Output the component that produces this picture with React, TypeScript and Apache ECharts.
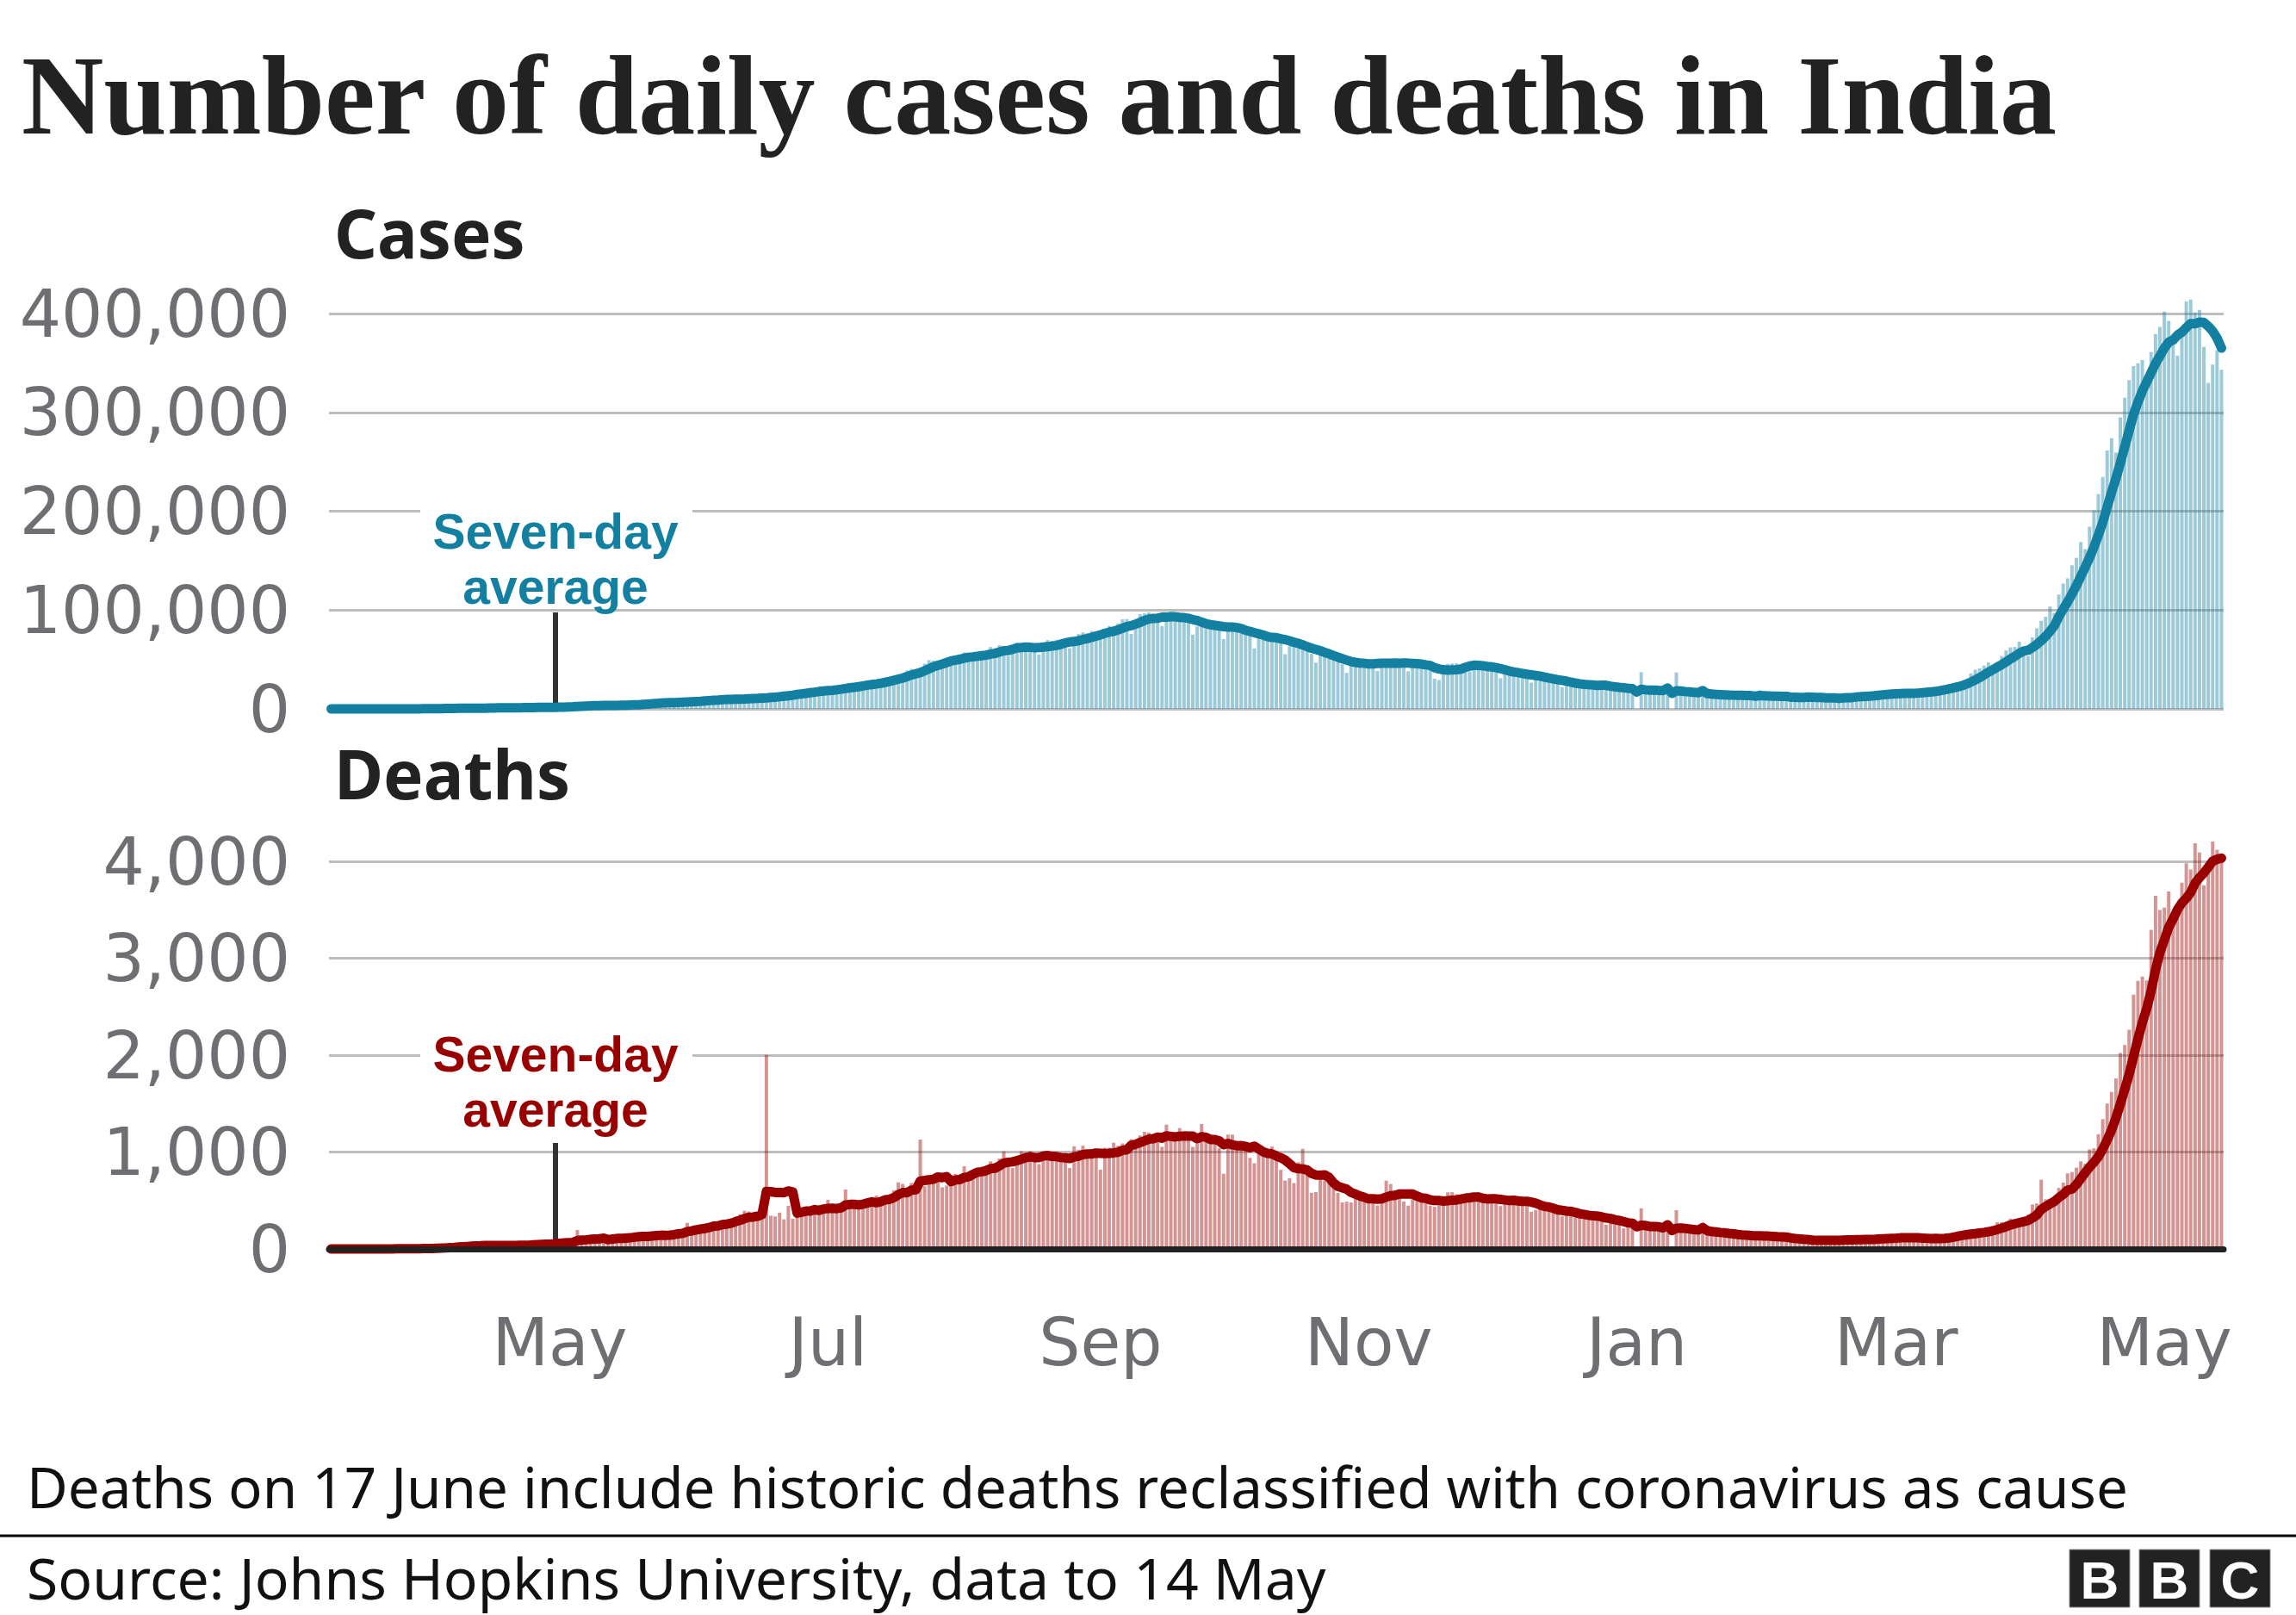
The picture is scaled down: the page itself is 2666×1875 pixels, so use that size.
import React, { useEffect, useRef } from "react";
import * as echarts from "echarts";

// ---------- Data (daily values, chart dates from 10 Mar 2020 to 14 May 2021) ----------
const START_DATE = "2020-03-10";

const cases2020Mar = [4, 10, 6, 11, 8, 18, 6, 25, 17, 14, 25, 56, 81, 64, 103, 75, 92, 87, 154, 103, 97, 227];
const cases2020Apr = [146, 601, 545, 478, 637, 693, 704, 508, 485, 591, 896, 768, 918, 934, 1463, 1118, 826, 1076, 957, 1324, 1580, 1239, 1537, 1292, 1667, 1408, 1835, 1607, 1568, 1902];
const cases2020May = [1705, 2394, 2564, 2952, 3656, 2971, 3602, 3344, 3339, 3175, 4311, 3592, 3562, 3726, 3991, 3808, 4794, 5050, 4628, 6147, 5553, 6088, 6654, 6767, 6977, 6414, 5843, 7293, 7300, 8105, 8336];
const cases2020Jun = [8782, 7723, 8812, 9633, 9889, 9471, 10438, 10864, 8536, 9987, 9985, 10956, 11306, 11929, 11502, 10667, 10974, 12881, 13586, 14516, 15413, 14821, 14933, 15968, 16922, 17296, 18552, 19906, 19459, 18522];
const cases2020Jul = [18653, 19148, 20903, 22771, 24850, 24248, 22252, 22752, 24879, 26506, 27114, 28637, 29108, 28498, 29429, 32695, 34956, 34884, 38902, 40425, 37148, 37724, 45720, 49310, 48916, 48661, 49931, 47704, 48513, 52123, 55078];
const cases2020Aug = [57118, 54736, 52972, 52050, 52509, 56282, 62538, 61537, 64399, 62064, 53601, 60963, 66999, 64553, 65002, 63490, 57981, 55079, 64531, 69652, 68898, 69878, 70488, 69239, 61408, 67151, 75760, 77266, 76472, 78761, 78512];
const cases2020Sep = [69921, 78357, 83883, 83341, 86432, 90632, 90802, 75809, 89706, 95735, 96551, 97570, 94372, 92071, 83809, 90123, 97894, 96424, 93337, 92605, 86961, 75083, 83347, 86508, 86052, 85362, 88600, 82170, 70589, 80472];
const cases2020Oct = [86821, 81484, 79476, 75829, 74442, 61267, 72049, 78524, 70496, 73272, 74383, 66732, 55342, 63509, 67708, 63371, 62212, 61871, 55722, 46790, 54044, 55838, 53370, 50129, 50356, 45149, 36469, 43893, 49881, 48648, 48268];
const cases2020Nov = [46963, 45231, 38310, 46253, 50210, 47638, 50357, 45674, 45903, 38073, 44281, 47905, 44879, 44878, 41100, 30548, 29163, 38617, 45576, 45882, 46232, 45209, 44059, 37975, 44376, 44489, 43082, 41322, 41810, 38772];
const cases2020Dec = [31118, 36604, 35551, 36595, 36652, 36011, 32981, 26567, 32080, 31522, 29398, 30006, 30254, 27071, 22065, 26382, 24010, 22890, 25153, 26624, 24337, 19556, 23950, 24712, 23067, 18732, 22273, 20021, 16432, 20549, 21822];
const cases2021Jan = [0, 37100, 19078, 18177, 16504, 18088, 20346, 18139, 0, 36867, 16311, 12584, 15968, 16946, 15590, 15158, 15144, 13788, 10064, 13823, 15223, 14545, 14256, 14849, 13203, 9102, 12689, 11666, 18855, 13083, 13052];
const cases2021Feb = [11427, 8635, 11039, 12899, 12408, 12194, 11713, 12059, 11831, 9110, 11067, 12923, 9309, 12143, 11649, 9121, 11610, 12881, 13193, 13993, 13993, 14264, 10584, 13742, 16738, 16577, 16488, 16752];
const cases2021Mar = [15510, 12286, 14989, 17407, 16838, 18327, 18711, 18599, 15388, 17921, 22854, 23285, 24882, 25320, 26291, 24492, 28903, 35871, 39726, 40953, 43846, 46951, 40715, 47262, 53476, 59118, 62258, 62714, 68020, 56211, 53480];
const cases2021Apr = [72330, 81466, 89129, 93249, 103558, 96982, 115736, 126789, 131968, 145384, 152879, 168912, 161736, 184372, 200739, 217353, 234692, 261500, 273810, 259170, 295041, 314835, 332730, 346786, 349691, 352991, 323144, 360960, 379257, 386452];
const cases2021May = [401993, 392488, 368147, 357229, 382315, 412262, 414188, 401078, 403738, 366161, 329942, 348421, 362727, 343144];

const deaths2020Mar = [0, 0, 0, 1, 1, 0, 0, 1, 0, 0, 1, 0, 3, 1, 2, 1, 4, 2, 4, 5, 3, 7];
const deaths2020Apr = [6, 9, 15, 17, 13, 32, 13, 35, 35, 31, 40, 33, 42, 35, 29, 39, 34, 38, 38, 32, 38, 48, 41, 37, 57, 52, 47, 60, 51, 72];
const deaths2020May = [70, 77, 73, 71, 195, 83, 92, 103, 96, 95, 110, 97, 122, 134, 102, 118, 120, 157, 137, 134, 132, 140, 142, 146, 154, 146, 170, 194, 175, 269, 193];
const deaths2020Jun = [230, 200, 217, 260, 273, 286, 294, 261, 265, 332, 357, 394, 386, 311, 321, 380, 2003, 343, 336, 375, 306, 445, 312, 465, 418, 410, 384, 410, 380, 418];
const deaths2020Jul = [507, 434, 379, 442, 613, 421, 425, 467, 482, 475, 519, 551, 500, 553, 500, 606, 687, 671, 543, 681, 587, 1129, 648, 740, 705, 708, 636, 654, 768, 775, 764];
const deaths2020Aug = [853, 771, 803, 806, 803, 857, 904, 886, 933, 1007, 871, 834, 942, 1007, 996, 1007, 941, 876, 944, 977, 945, 977, 944, 912, 836, 1059, 1023, 1065, 1021, 948, 971];
const deaths2020Sep = [819, 1043, 1045, 1096, 1065, 1089, 1016, 1133, 1115, 1172, 1209, 1201, 1114, 1136, 1054, 1283, 1132, 1174, 1247, 1133, 1130, 1053, 1085, 1290, 1129, 1089, 1124, 1039, 776, 1179];
const deaths2020Oct = [1181, 1069, 1095, 1069, 940, 884, 986, 971, 963, 1056, 918, 816, 706, 730, 680, 895, 1033, 837, 579, 587, 717, 706, 702, 650, 578, 480, 488, 480, 587, 563, 551];
const deaths2020Nov = [470, 490, 449, 514, 704, 670, 577, 559, 490, 447, 512, 559, 547, 547, 447, 435, 449, 474, 584, 585, 564, 511, 501, 480, 524, 584, 492, 524, 518, 496];
const deaths2020Dec = [443, 482, 540, 512, 482, 482, 500, 384, 402, 413, 411, 442, 391, 391, 336, 355, 385, 338, 347, 341, 333, 292, 338, 333, 251, 312, 251, 279, 212, 251, 299];
const deaths2021Jan = [0, 419, 229, 214, 201, 237, 222, 226, 0, 400, 228, 162, 202, 180, 191, 181, 178, 161, 137, 162, 151, 152, 151, 131, 131, 117, 137, 123, 163, 127, 128];
const deaths2021Feb = [113, 94, 123, 107, 104, 87, 95, 84, 78, 84, 83, 108, 94, 90, 78, 89, 101, 101, 103, 101, 101, 95, 78, 102, 138, 113, 113, 118];
const deaths2021Mar = [112, 106, 108, 138, 113, 108, 100, 97, 77, 133, 126, 117, 140, 161, 161, 131, 188, 172, 154, 188, 197, 212, 199, 275, 275, 257, 312, 291, 291, 271, 354];
const deaths2021Apr = [459, 469, 714, 513, 478, 446, 630, 685, 780, 794, 839, 904, 879, 1027, 1038, 1185, 1341, 1501, 1619, 1761, 2023, 2104, 2263, 2624, 2767, 2812, 2771, 3293, 3645, 3498];
const deaths2021May = [3523, 3689, 3417, 3449, 3780, 3980, 3915, 4187, 4092, 3754, 3876, 4205, 4120, 4000];

const tickDates = ["2020-05-01", "2020-07-01", "2020-09-01", "2020-11-01", "2021-01-01", "2021-03-01", "2021-05-01"];
const tickLabels = ["May", "Jul", "Sep", "Nov", "Jan", "Mar", "May"];
const casesTicks = [0, 100000, 200000, 300000, 400000];
const deathsTicks = [0, 1000, 2000, 3000, 4000];

const TITLE = "Number of daily cases and deaths in India";
const NOTE = "Deaths on 17 June include historic deaths reclassified with coronavirus as cause";
const SOURCE = "Source: Johns Hopkins University, data to 14 May";
const ANNOTATION = "Seven-day\naverage";

const dailyCases = [
  ...cases2020Mar, ...cases2020Apr, ...cases2020May, ...cases2020Jun, ...cases2020Jul, ...cases2020Aug,
  ...cases2020Sep, ...cases2020Oct, ...cases2020Nov, ...cases2020Dec, ...cases2021Jan, ...cases2021Feb,
  ...cases2021Mar, ...cases2021Apr, ...cases2021May,
];
const dailyDeaths = [
  ...deaths2020Mar, ...deaths2020Apr, ...deaths2020May, ...deaths2020Jun, ...deaths2020Jul, ...deaths2020Aug,
  ...deaths2020Sep, ...deaths2020Oct, ...deaths2020Nov, ...deaths2020Dec, ...deaths2021Jan, ...deaths2021Feb,
  ...deaths2021Mar, ...deaths2021Apr, ...deaths2021May,
];

function buildDates(start: string, count: number): string[] {
  const out: string[] = [];
  const t0 = Date.parse(start + "T00:00:00Z");
  for (let i = 0; i < count; i++) out.push(new Date(t0 + i * 86400000).toISOString().slice(0, 10));
  return out;
}

// Trailing seven-day average of the daily values (what the chart's line shows)
function sevenDayAverage(values: number[]): number[] {
  return values.map((_, i) => {
    const w = values.slice(Math.max(0, i - 6), i + 1);
    return w.reduce((a, b) => a + b, 0) / w.length;
  });
}

const CASES_COLOR = "#1380A1";
const DEATHS_COLOR = "#990000";
const GRID_COLOR = "#bdbdbd";
const LABEL_COLOR = "#6e6e73";
const AXIS_FONT = "DejaVu Sans";

export default function App() {
  const ref = useRef<HTMLDivElement>(null);

  useEffect(() => {
    if (!ref.current) return;
    const chart = echarts.init(ref.current, null, { renderer: "svg", width: 2666, height: 1875 });
    const dates = buildDates(START_DATE, dailyCases.length);
    const casesAvg = sevenDayAverage(dailyCases);
    const deathsAvg = sevenDayAverage(dailyDeaths);

    const yLabel = {
      fontFamily: AXIS_FONT,
      fontSize: 76,
      color: LABEL_COLOR,
      margin: 45,
      formatter: (v: number) => Number(v).toLocaleString("en-US"),
    };

    const annotation = (color: string, boxY: number, boxH: number, textY: number, ptrY1: number, ptrY2: number) => [
      { type: "rect", z: 1, shape: { x: 488, y: boxY, width: 316, height: boxH, r: 6 }, style: { fill: "#ffffff" } },
      { type: "line", z: 3, shape: { x1: 645, y1: ptrY1, x2: 645, y2: ptrY2 }, style: { stroke: "#333333", lineWidth: 6 } },
      {
        type: "text", z: 10, x: 645, y: textY,
        style: {
          text: ANNOTATION, fontFamily: "Liberation Sans", fontWeight: "bold", fontSize: 57, lineHeight: 64,
          fill: color, align: "center", verticalAlign: "middle",
        },
      },
    ];

    const bbcBox = (x: number, letter: string) => [
      { type: "rect", z: 10, shape: { x, y: 1799, width: 70, height: 67 }, style: { fill: "#222222", stroke: "#888888", lineWidth: 1 } },
      {
        type: "text", z: 11, x: x + 35, y: 1834,
        style: { text: letter, fontFamily: "Liberation Sans", fontWeight: "bold", fontSize: 62, lineHeight: 62, fill: "#ffffff", align: "center", verticalAlign: "middle" },
      },
    ];

    const option: any = {
      animation: false,
      backgroundColor: "#ffffff",
      grid: [
        { left: 382, top: 364, width: 2200, height: 459 },
        { left: 382, top: 1000, width: 2200, height: 450 },
      ],
      xAxis: [
        {
          type: "category", gridIndex: 0, data: dates, boundaryGap: true,
          axisLine: { show: false }, axisTick: { show: false }, axisLabel: { show: false }, splitLine: { show: false },
        },
        {
          type: "category", gridIndex: 1, data: dates, boundaryGap: true, z: 5,
          axisLine: { show: true, lineStyle: { color: "#222222", width: 7 } },
          axisTick: { show: false },
          splitLine: { show: false },
          axisLabel: {
            interval: (_i: number, v: string) => tickDates.indexOf(v) >= 0,
            formatter: (v: string) => {
              const k = tickDates.indexOf(v);
              return k >= 0 ? tickLabels[k] : "";
            },
            fontFamily: AXIS_FONT, fontSize: 76, color: LABEL_COLOR, margin: 70,
          },
        },
      ],
      yAxis: [
        {
          type: "value", gridIndex: 0, min: casesTicks[0], max: casesTicks[casesTicks.length - 1], interval: casesTicks[1] - casesTicks[0],
          axisLine: { show: false }, axisTick: { show: false }, axisLabel: yLabel,
          splitLine: { show: true, lineStyle: { color: GRID_COLOR, width: 3 } },
        },
        {
          type: "value", gridIndex: 1, min: deathsTicks[0], max: deathsTicks[deathsTicks.length - 1], interval: deathsTicks[1] - deathsTicks[0],
          axisLine: { show: false }, axisTick: { show: false }, axisLabel: yLabel,
          splitLine: { show: true, lineStyle: { color: GRID_COLOR, width: 3 } },
        },
      ],
      series: [
        {
          name: "Cases", type: "bar", xAxisIndex: 0, yAxisIndex: 0, data: dailyCases, barCategoryGap: "22%",
          itemStyle: { color: "rgba(19,128,161,0.42)" }, clip: false, silent: true, z: 2,
        },
        {
          name: "Cases seven-day average", type: "line", xAxisIndex: 0, yAxisIndex: 0, data: casesAvg,
          showSymbol: false, symbol: "none", clip: false, silent: true, z: 4,
          lineStyle: { color: CASES_COLOR, width: 11, cap: "round", join: "round" }, itemStyle: { color: CASES_COLOR },
        },
        {
          name: "Deaths", type: "bar", xAxisIndex: 1, yAxisIndex: 1, data: dailyDeaths, barCategoryGap: "22%",
          itemStyle: { color: "rgba(153,0,0,0.42)" }, clip: false, silent: true, z: 2,
        },
        {
          name: "Deaths seven-day average", type: "line", xAxisIndex: 1, yAxisIndex: 1, data: deathsAvg,
          showSymbol: false, symbol: "none", clip: false, silent: true, z: 4,
          lineStyle: { color: DEATHS_COLOR, width: 11, cap: "round", join: "round" }, itemStyle: { color: DEATHS_COLOR },
        },
      ],
      graphic: [
        {
          type: "text", z: 10, x: 25, y: 110,
          style: { text: TITLE, fontFamily: "Liberation Serif", fontWeight: "bold", fontSize: 132, fill: "#222222", align: "left", verticalAlign: "middle" },
        },
        {
          type: "text", z: 10, x: 388, y: 270,
          style: { text: "Cases", fontFamily: "Noto Sans", fontWeight: "bold", fontSize: 78, fill: "#222222", align: "left", verticalAlign: "middle" },
        },
        {
          type: "text", z: 10, x: 388, y: 898,
          style: { text: "Deaths", fontFamily: "Noto Sans", fontWeight: "bold", fontSize: 78, fill: "#222222", align: "left", verticalAlign: "middle" },
        },
        ...annotation(CASES_COLOR, 583, 124, 649, 711, 822),
        ...annotation(DEATHS_COLOR, 1190, 132, 1256, 1327, 1446),
        {
          type: "text", z: 10, x: 31, y: 1725,
          style: { text: NOTE, fontFamily: "Noto Sans", fontSize: 65.5, lineHeight: 70, fill: "#111111", align: "left", verticalAlign: "middle" },
        },
        { type: "line", z: 10, shape: { x1: 0, y1: 1783, x2: 2666, y2: 1783 }, style: { stroke: "#000000", lineWidth: 3 } },
        {
          type: "text", z: 10, x: 31, y: 1831,
          style: { text: SOURCE, fontFamily: "Noto Sans", fontSize: 66, lineHeight: 70, fill: "#111111", align: "left", verticalAlign: "middle" },
        },
        ...bbcBox(2403, "B"),
        ...bbcBox(2484, "B"),
        ...bbcBox(2566, "C"),
      ],
    };

    chart.setOption(option);
    return () => chart.dispose();
  }, []);

  return (
    <div
      ref={ref}
      style={{ position: "absolute", left: 0, top: 0, width: 2666, height: 1875, background: "#ffffff" }}
    />
  );
}
